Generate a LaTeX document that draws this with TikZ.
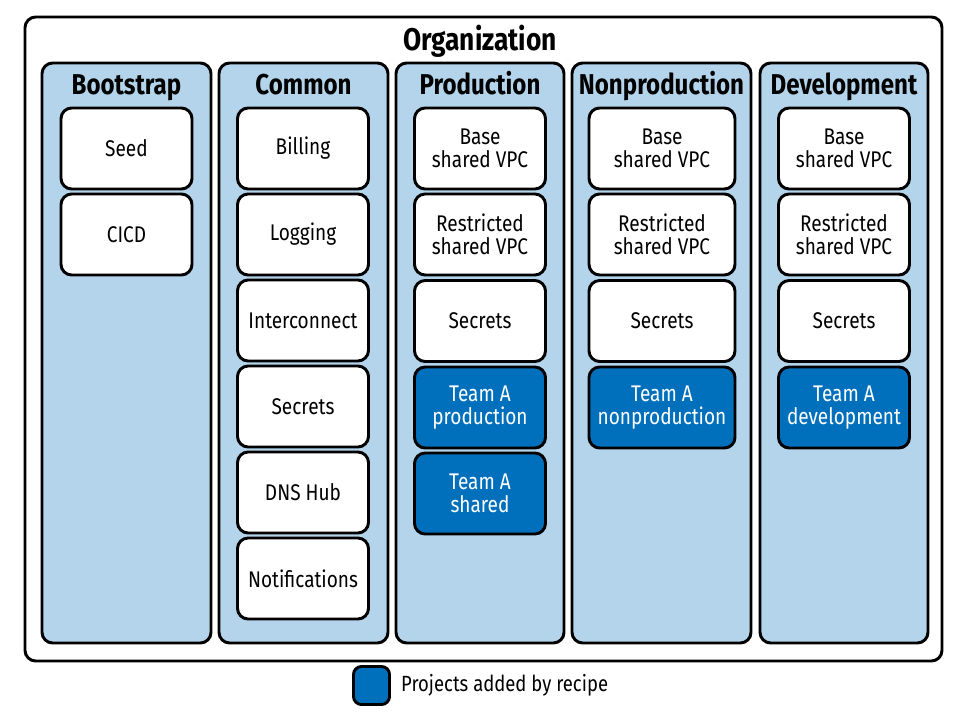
\documentclass[tikz,border=0pt]{standalone}
\usepackage{fontspec}
\setmainfont[FakeStretch=0.84]{Fira Sans}
\definecolor{paleblue}{HTML}{B3D4EA}
\definecolor{recipeblue}{HTML}{0070BC}
\tikzset{
    frame/.style={draw,line width=2.2pt,rounded corners=8pt},
    column/.style={frame,fill=paleblue,minimum height=580*0.75pt},
    header/.style={font=\bfseries\fontsize{21.5}{23}\selectfont,inner sep=0pt,anchor=base},
    card/.style={frame,fill=white,align=center,minimum width=131*0.75pt,minimum height=81*0.75pt,
        font=\fontsize{17}{17.5}\selectfont,inner sep=1pt},
    recipe/.style={card,fill=recipeblue,text=white}
}
\begin{document}
\begin{tikzpicture}[x=0.75pt,y=-0.75pt]
    \useasboundingbox (0,0) rectangle (956,718);

    \node[frame,fill=white,minimum width=917*0.75pt,minimum height=644*0.75pt] (org) at (483.5,339) {};
    \node[header,font=\bfseries\fontsize{23.5}{25}\selectfont] (org-title) at (480,50) {Organization};

    \foreach \name/\cx/\w/\lbl in {boot/126.5/169/Bootstrap, common/303.5/169/Common,
        prod/480/168/Production, nonprod/661.5/179/Nonproduction, dev/844/168/Development}
    {
        \node[column,minimum width=\w*0.75pt] (\name) at (\cx,353) {};
        \node[header] (\name-head) at (\cx,94.5) {\lbl};
    }

    \foreach \i/\txt in {1/Seed, 2/CICD}
        \node[card] (boot-\i) at (126.5,62.5+86*\i) {\txt};

    \foreach \i/\txt in {1/Billing, 2/Logging, 3/Interconnect, 4/Secrets, 5/DNS Hub, 6/Notifications}
        \node[card] (common-\i) at (303,62.5+86*\i) {\txt};

    \foreach \name/\cx/\w in {prod/480/131, nonprod/662/146, dev/844/131}
    {
        \node[card,minimum width=\w*0.75pt] (\name-1) at (\cx,148.5) {Base\\shared VPC};
        \node[card,minimum width=\w*0.75pt] (\name-2) at (\cx,234.5) {Restricted\\shared VPC};
        \node[card,minimum width=\w*0.75pt] (\name-3) at (\cx,321) {Secrets};
    }

    \node[recipe] (prod-4) at (480,407.5) {Team A\\production};
    \node[recipe] (prod-5) at (480,493.5) {Team A\\shared};
    \node[recipe,minimum width=146*0.75pt] (nonprod-4) at (662,407.5) {Team A\\nonproduction};
    \node[recipe] (dev-4) at (844,407.5) {Team A\\development};

    % legend
    \node[recipe,minimum width=36*0.75pt,minimum height=38*0.75pt,rounded corners=6pt] (key) at (371.5,685.5) {};
    \node[anchor=west,inner sep=0pt,font=\fontsize{16.5}{17}\selectfont] (key-text) at ([xshift=7.5pt]key.east) {Projects added by recipe};
\end{tikzpicture}
\end{document}
